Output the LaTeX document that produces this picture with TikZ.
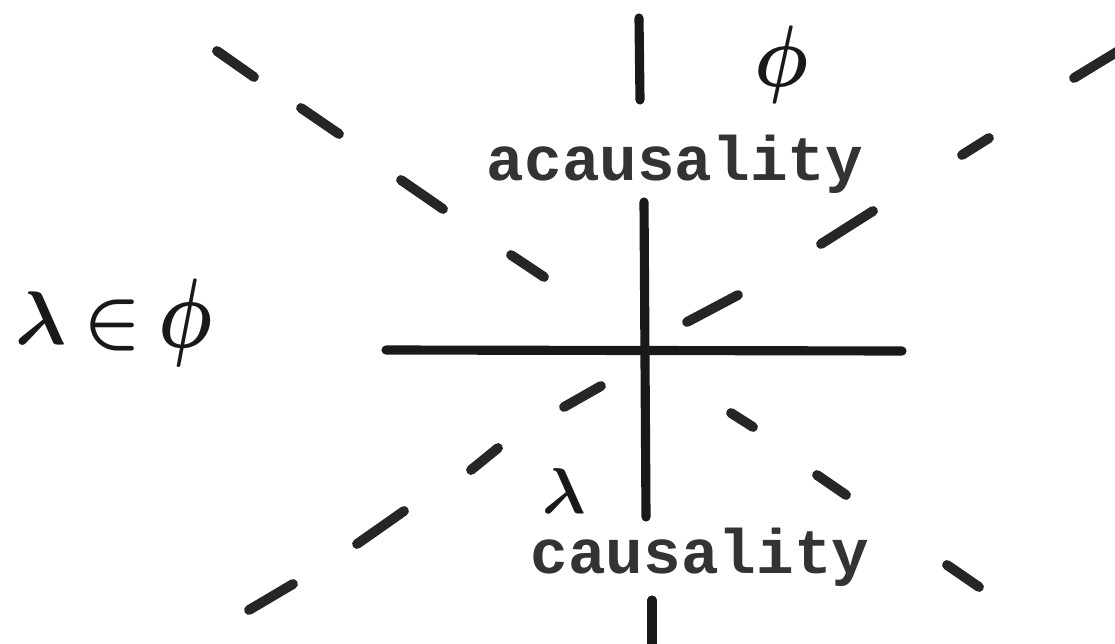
\RequirePackage{fix-cm}
\documentclass[tikz,border=0pt]{standalone}
\usepackage{fontspec}
\setmonofont{Liberation Mono}

\begin{document}
\begin{tikzpicture}[x=0.025cm,y=-0.025cm,axis/.style={line width=6.5pt,line cap=round,draw=black!90},dashmark/.style={line width=7pt,line cap=round,draw=black!85},typed/.style={font=\ttfamily\bfseries\fontsize{44.6pt}{48pt}\selectfont,text=black!80,inner sep=0pt},glyph/.style={font=\fontsize{54pt}{56pt}\selectfont\boldmath,text=black!90,inner sep=0pt}]
\useasboundingbox (0,0) rectangle (1115,643);
% cross and the two stubs above and below
\draw[axis] (386,350) -- (902,351);
\draw[axis] (644,202) -- (646,517);
\draw[axis] (639,18) -- (640,100);
\draw[axis] (652,600) -- (652,650);
% diagonal running down to the right
\draw[dashmark] (217,51) -- (254,77);
\draw[dashmark] (301,108) -- (339,134);
\draw[dashmark] (401,180) -- (443,209);
\draw[dashmark] (511,255) -- (544,277);
\draw[dashmark] (731,413) -- (753,427);
\draw[dashmark] (817,475) -- (846,495);
\draw[dashmark] (947,565) -- (979,587);
% diagonal running up to the right
\draw[dashmark] (249,610) -- (293,584);
\draw[dashmark] (357,544) -- (404,511);
\draw[dashmark] (471,470) -- (498,448);
\draw[dashmark] (564,407) -- (601,386);
\draw[dashmark] (687,322) -- (738,295);
\draw[dashmark] (821,244) -- (873,211);
\draw[dashmark] (962,155) -- (989,138);
\draw[dashmark] (1074,78) -- (1120,50);
% labels
\node[typed,anchor=base] (acausal) at (675,180) {acausality};
\node[typed,anchor=base] (causal) at (700,573) {causality};
\node[glyph,yscale=1.15] (phitop) at (782,65) {$\phi$};
\node[glyph] (lamleft) at (41,318) {$\lambda$};
\node[glyph] (memb) at (113,326) {$\in$};
\node[glyph,yscale=1.3] (phileft) at (186,323) {$\phi$};
\node[glyph,font=\fontsize{46pt}{48pt}\selectfont\boldmath] (lamlow) at (564,491) {$\lambda$};
\end{tikzpicture}
\end{document}
